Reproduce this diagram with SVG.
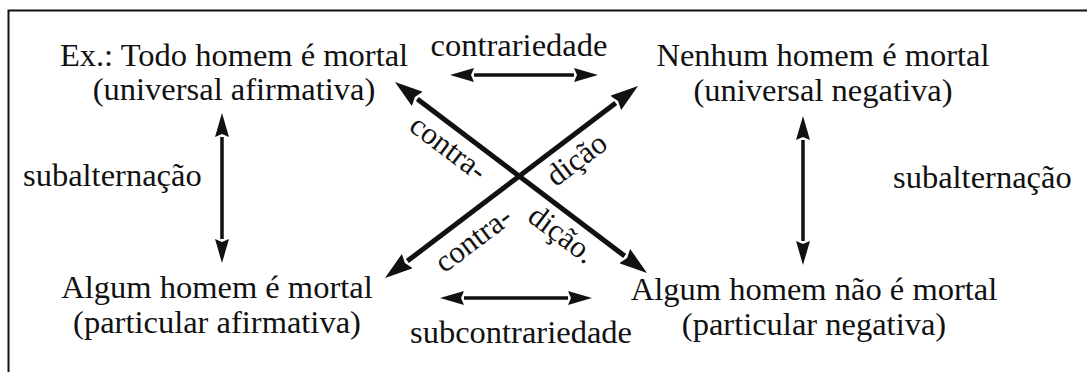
<svg xmlns="http://www.w3.org/2000/svg" width="1087" height="372" viewBox="0 0 1087 372">
<style>
text{font-family:"Liberation Serif","Times New Roman",serif;fill:#111;}
.t{font-size:32.5px;text-anchor:middle;}
.l{font-size:32.5px;}
.d{font-size:31px;text-anchor:middle;}
.c{stroke:#111;fill:none;}
.thin{stroke-width:3.5;marker-start:url(#hs);marker-end:url(#hs);}
.thick{stroke-width:5;marker-start:url(#hb);marker-end:url(#hb);}
</style>
<defs>
<marker id="hs" viewBox="0 0 24 14" refX="0" refY="7" markerWidth="24" markerHeight="14" markerUnits="userSpaceOnUse" orient="auto-start-reverse"><path d="M0,0 L24,7 L0,14 L3,7 z" fill="#111"/></marker>
<marker id="hb" viewBox="0 0 28 18" refX="0" refY="9" markerWidth="28" markerHeight="18" markerUnits="userSpaceOnUse" orient="auto-start-reverse"><path d="M0,0 L28,9 L0,18 L3,9 z" fill="#111"/></marker>
</defs>
<rect width="1087" height="372" fill="#fff"/>
<path d="M8.5,372 V10.5 H1087" stroke="#111" stroke-width="2" fill="none"/>

<g id="node-universal-afirmativa">
<text class="t" x="234" y="66">Ex.: Todo homem é mortal</text>
<text class="t" x="234" y="100">(universal afirmativa)</text>
</g>
<g id="node-universal-negativa">
<text class="t" x="823" y="66">Nenhum homem é mortal</text>
<text class="t" x="823" y="101">(universal negativa)</text>
</g>
<g id="node-particular-afirmativa">
<text class="t" x="217" y="298">Algum homem é mortal</text>
<text class="t" x="217" y="333">(particular afirmativa)</text>
</g>
<g id="node-particular-negativa">
<text class="t" x="814" y="300">Algum homem não é mortal</text>
<text class="t" x="814" y="335">(particular negativa)</text>
</g>

<g id="connectors">
<line class="c thin" x1="474" y1="75" x2="574" y2="75"/>
<line class="c thin" x1="464" y1="298" x2="568" y2="298"/>
<line class="c thin" x1="222" y1="137" x2="222" y2="239"/>
<line class="c thin" x1="803" y1="140" x2="803" y2="241"/>
<line class="c thick" x1="417.3" y1="98.9" x2="624.7" y2="256.1"/>
<line class="c thick" x1="407.3" y1="261.1" x2="615.7" y2="102.9"/>
</g>

<g id="connector-labels">
<text class="t" x="519" y="56">contrariedade</text>
<text class="t" x="521" y="343">subcontrariedade</text>
<text class="l" x="23" y="186">subalternação</text>
<text class="l" x="893" y="188">subalternação</text>
<text class="d" transform="translate(442.5,155.6) rotate(37)">contra-</text>
<text class="d" transform="translate(582.5,167.3) rotate(-37)">dição</text>
<text class="d" transform="translate(479.2,247.3) rotate(-37)">contra-</text>
<text class="d" transform="translate(555.8,242.3) rotate(37)">dição.</text>
</g>
</svg>
